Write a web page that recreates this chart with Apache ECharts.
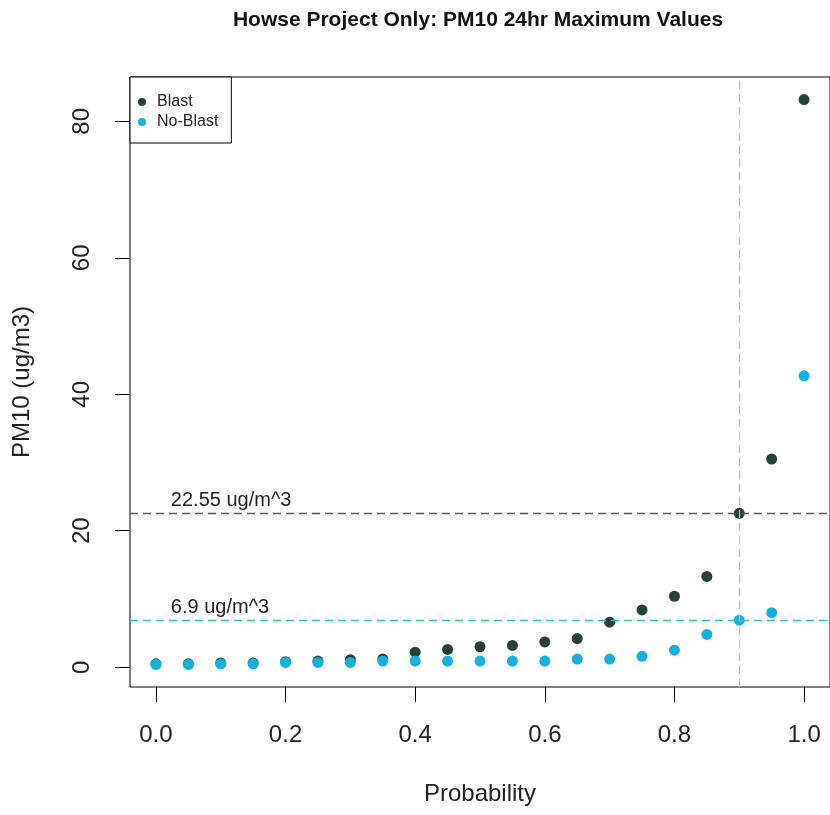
<!DOCTYPE html>
<html>
<head>
<meta charset="utf-8">
<script src="https://cdn.jsdelivr.net/npm/echarts@6/dist/echarts.min.js"></script>
<style>
	html, body { margin: 0; padding: 0; background: #fff; }
	#chart { width: 830px; height: 815px; }
</style>
</head>
<body>
<div id="chart"></div>
<script>
// probability levels
const probs = [0, 0.05, 0.1, 0.15, 0.2, 0.25, 0.3, 0.35, 0.4, 0.45, 0.5, 0.55, 0.6, 0.65, 0.7, 0.75, 0.8, 0.85, 0.9, 0.95, 1.0]
// PM10 24hr maximum values (ug/m3)
const blast = [0.5, 0.5, 0.6, 0.6, 0.8, 0.9, 1.1, 1.2, 2.2, 2.6, 3.0, 3.2, 3.7, 4.2, 6.6, 8.4, 10.4, 13.3, 22.55, 30.5, 83.2]
const noBlast = [0.4, 0.4, 0.5, 0.5, 0.7, 0.7, 0.7, 0.9, 0.9, 0.9, 0.9, 0.9, 0.9, 1.2, 1.2, 1.6, 2.5, 4.8, 6.9, 8.0, 42.7]
const xTicks = [0, 0.2, 0.4, 0.6, 0.8, 1.0]
const yTicks = [0, 20, 40, 60, 80]
const blastRef = 22.55
const noBlastRef = 6.9
const probRef = 0.9

const font = 'Liberation Sans, Arial, sans-serif'

function pairs(ys) {
	return probs.map((p, i) => [p, ys[i]])
}

// text sitting just above a reference line, left aligned
function refLabel(y, text) {
	return {
		symbol: 'circle',
		symbolSize: 0,
		silent: true,
		data: [{ coord: [0.023, y], value: text }],
		label: {
			show: true,
			position: [0, 0],
			align: 'left',
			verticalAlign: 'bottom',
			offset: [0, -3],
			formatter: text,
			color: '#222',
			fontSize: 20,
			fontFamily: font,
		},
	}
}

const chart = echarts.init(document.getElementById('chart'), null, { renderer: 'canvas' })

const option = {
	animation: false,
	backgroundColor: '#fff',
	title: {
		text: 'Howse Project Only: PM10 24hr Maximum Values',
		left: 473,
		top: 5,
		textAlign: 'center',
		textStyle: { fontSize: 21, fontWeight: 'bold', color: '#111', fontFamily: font },
	},
	legend: {
		orient: 'vertical',
		left: 130,
		top: 77,
		padding: [17, 13, 13, 8],
		itemGap: 4,
		itemWidth: 20,
		itemHeight: 8,
		borderColor: '#000',
		borderWidth: 1,
		backgroundColor: '#fff',
		icon: 'circle',
		textStyle: { fontSize: 16, color: '#222', fontFamily: font },
		data: ['Blast', 'No-Blast'],
	},
	grid: {
		show: true,
		left: 130,
		top: 77,
		width: 702,
		bottom: 128,
		borderColor: '#000',
		borderWidth: 1,
		backgroundColor: 'transparent',
	},
	xAxis: {
		type: 'value',
		min: -0.04,
		max: 1.04,
		name: 'Probability',
		nameLocation: 'middle',
		nameGap: 95,
		nameTextStyle: { fontSize: 24, color: '#222', fontFamily: font },
		axisLine: { show: false, onZero: false },
		splitLine: { show: false },
		axisTick: {
			show: true,
			length: 15,
			customValues: xTicks,
			lineStyle: { color: '#000' },
		},
		axisLabel: {
			customValues: xTicks,
			margin: 36,
			fontSize: 24,
			color: '#222',
			fontFamily: font,
			formatter: v => v.toFixed(1),
		},
	},
	yAxis: {
		type: 'value',
		min: -2.9,
		max: 86.5,
		name: 'PM10 (ug/m3)',
		nameLocation: 'middle',
		nameGap: 96,
		nameTextStyle: { fontSize: 24, color: '#222', fontFamily: font },
		axisLine: { show: false, onZero: false },
		splitLine: { show: false },
		axisTick: {
			show: true,
			length: 15,
			customValues: yTicks,
			lineStyle: { color: '#000' },
		},
		axisLabel: {
			customValues: yTicks,
			rotate: 90,
			margin: 36,
			fontSize: 24,
			color: '#222',
			fontFamily: font,
		},
	},
	series: [
		{
			name: 'Blast',
			type: 'scatter',
			symbolSize: 11,
			itemStyle: { color: '#27403b', opacity: 1 },
			data: pairs(blast),
			markLine: {
				silent: true,
				symbol: 'none',
				label: { show: false },
				data: [
					{ yAxis: blastRef, lineStyle: { color: '#555', type: [8, 5], width: 1.3 } },
					{ xAxis: probRef, lineStyle: { color: '#bbb', type: [8, 5], width: 1.2 } },
				],
			},
			markPoint: refLabel(blastRef, '22.55 ug/m^3'),
		},
		{
			name: 'No-Blast',
			type: 'scatter',
			symbolSize: 11,
			itemStyle: { color: '#17aee0', opacity: 1 },
			data: pairs(noBlast),
			markLine: {
				silent: true,
				symbol: 'none',
				label: { show: false },
				data: [
					{ yAxis: noBlastRef, lineStyle: { color: '#3bb7c9', type: [8, 5], width: 1.3 } },
				],
			},
			markPoint: refLabel(noBlastRef, '6.9 ug/m^3'),
		},
	],
}

chart.setOption(option)
</script>
</body>
</html>
